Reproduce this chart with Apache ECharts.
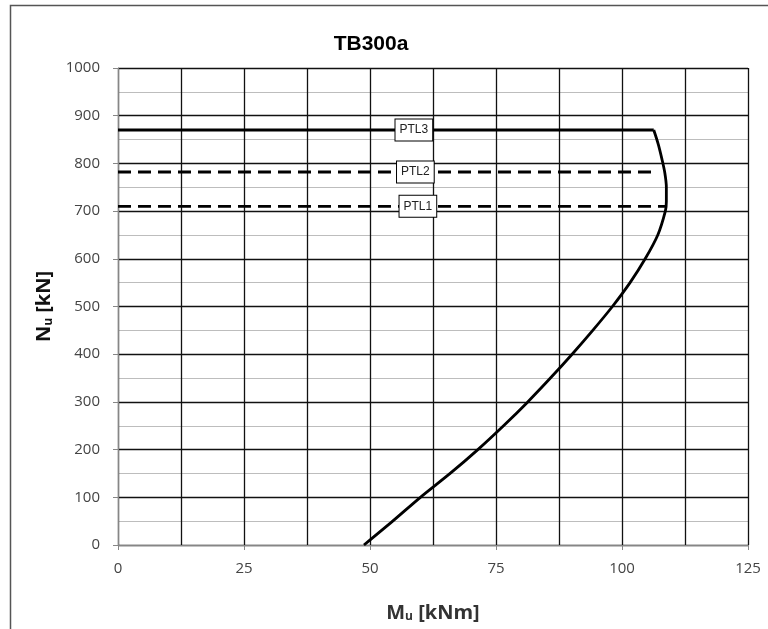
<!DOCTYPE html>
<html>
<head>
<meta charset="utf-8">
<script src="https://cdn.jsdelivr.net/npm/echarts@6/dist/echarts.min.js"></script>
<style>
  html, body { margin: 0; padding: 0; background: #fff; }
  #chart { width: 768px; height: 629px; }
</style>
</head>
<body>
<div id="chart"></div>
<script>
// Interaction curve of section TB300a: bending moment Mu [kNm] against axial force Nu [kN]
const curveN = [0, 50, 100, 150, 200, 250, 300, 350, 400, 450, 500, 550, 600, 650, 700, 720, 750, 780, 810, 840, 870];
const curveM = [48.8, 54.5, 60.0, 65.9, 71.4, 76.5, 81.3, 85.8, 90.1, 94.2, 98.1, 101.6, 104.6, 107.1, 108.6, 108.8, 108.8, 108.5, 107.9, 107.2, 106.3];

// Load levels PTL1..PTL3: axial force, line end moment, label position
const ptlNames = ['PTL1', 'PTL2', 'PTL3'];
const ptlN = [710, 782, 870];
const ptlEndM = [108.8, 105.8, 106.3];
const ptlLabelM = [59.5, 59.0, 58.7];
const ptlDashed = [true, true, false];

// Axis ticks
const xTicks = [0, 25, 50, 75, 100, 125];
const yTicks = [0, 100, 200, 300, 400, 500, 600, 700, 800, 900, 1000];

const chart = echarts.init(document.getElementById('chart'));

const labelFont = "'Open Sans', 'Liberation Sans', sans-serif";

const series = [{
  name: 'Nu-Mu',
  type: 'line',
  data: curveM.map((m, i) => [m, curveN[i]]),
  smooth: 0.3,
  symbol: 'none',
  lineStyle: { color: '#000', width: 2.8 },
  z: 5
}];

ptlNames.forEach((name, i) => {
  series.push({
    name: name,
    type: 'line',
    showSymbol: true,
    symbol: 'circle',
    symbolSize: 1,
    itemStyle: { color: 'rgba(0,0,0,0)' },
    data: [
      { value: [0, ptlN[i]], label: { show: false } },
      { value: [ptlLabelM[i], ptlN[i]], label: { show: true, formatter: name } },
      { value: [ptlEndM[i], ptlN[i]], label: { show: false } }
    ],
    lineStyle: { color: '#000', width: 2.8, type: ptlDashed[i] ? [13, 7] : 'solid' },
    label: {
      position: 'inside',
      fontFamily: "'Liberation Sans', Arial, sans-serif",
      fontSize: 12,
      color: '#222',
      backgroundColor: '#fff',
      borderColor: '#000',
      borderWidth: 1,
      padding: [5, 4, 4, 4]
    },
    z: 6
  });
});

const option = {
  animation: false,
  backgroundColor: '#fff',
  title: {
    text: 'TB300a',
    left: 366,
    top: 29,
    textAlign: 'center',
    textStyle: { fontFamily: "'Liberation Sans', Arial, sans-serif", fontSize: 21, fontWeight: 'bold', color: '#000' }
  },
  graphic: [{
    type: 'rect',
    shape: { x: 10.5, y: 5.5, width: 900, height: 800 },
    style: { fill: 'none', stroke: '#555', lineWidth: 1.5 },
    silent: true
  }],
  grid: { left: 118, right: 20, top: 68, bottom: 84, containLabel: false },
  xAxis: {
    type: 'value',
    min: xTicks[0],
    max: xTicks[xTicks.length - 1],
    interval: xTicks[1] - xTicks[0],
    name: '{m|M}{s|u}{m| [kNm]}',
    nameLocation: 'middle',
    nameGap: 52,
    nameTextStyle: {
      rich: {
        m: { fontFamily: labelFont, fontSize: 20, fontWeight: 'bold', color: '#333', verticalAlign: 'bottom', lineHeight: 26 },
        s: { fontFamily: labelFont, fontSize: 12, fontWeight: 'bold', color: '#333', verticalAlign: 'bottom', lineHeight: 20 }
      }
    },
    axisLine: { show: true, lineStyle: { color: '#868686', width: 1.2 } },
    axisTick: { show: true, length: 5, lineStyle: { color: '#868686' } },
    axisLabel: { fontFamily: labelFont, fontSize: 15, color: '#444', margin: 16 },
    splitLine: { show: true, lineStyle: { color: '#111', width: 1.3 } },
    minorTick: { show: false, splitNumber: 2 },
    minorSplitLine: { show: true, lineStyle: { color: '#111', width: 1.3 } }
  },
  yAxis: {
    type: 'value',
    min: yTicks[0],
    max: yTicks[yTicks.length - 1],
    interval: yTicks[1] - yTicks[0],
    name: '{m|N}{s|u}{m| [kN]}',
    nameLocation: 'middle',
    nameRotate: 90,
    nameGap: 62,
    nameTextStyle: {
      rich: {
        m: { fontFamily: labelFont, fontSize: 20, fontWeight: 'bold', color: '#111', verticalAlign: 'bottom', lineHeight: 26 },
        s: { fontFamily: labelFont, fontSize: 12, fontWeight: 'bold', color: '#111', verticalAlign: 'bottom', lineHeight: 20 }
      }
    },
    axisLine: { show: true, lineStyle: { color: '#868686', width: 1.2 } },
    axisTick: { show: true, length: 5, lineStyle: { color: '#868686' } },
    axisLabel: { fontFamily: labelFont, fontSize: 15, color: '#444', margin: 18, formatter: v => String(v) },
    splitLine: { show: true, lineStyle: { color: '#111', width: 1.3 } },
    minorTick: { show: false, splitNumber: 2 },
    minorSplitLine: { show: true, lineStyle: { color: '#bdbdbd', width: 1.2 } }
  },
  series: series
};

chart.setOption(option);
</script>
</body>
</html>
